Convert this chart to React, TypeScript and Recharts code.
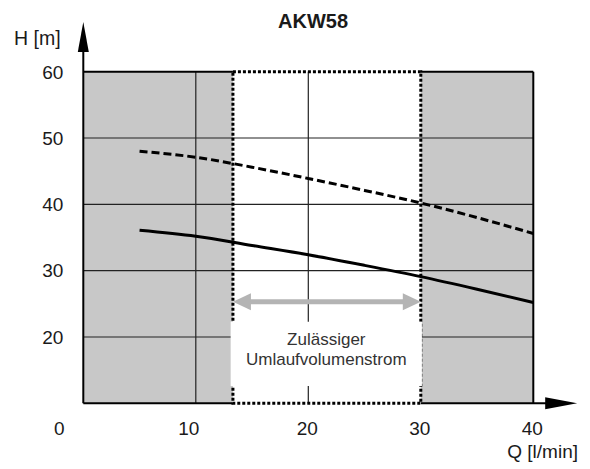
import { ComposedChart, Line, XAxis, YAxis, ReferenceArea, ReferenceLine } from 'recharts'

// pump curve AKW58, Q in l/min, H in m
const flowQ = [5, 10, 15, 20, 25, 30, 35, 40]
const headUpper = [48, 47.1, 45.6, 43.9, 42.1, 40.2, 38, 35.6]
const headLower = [36.1, 35.2, 33.8, 32.4, 30.8, 29.1, 27.2, 25.2]

const qTicks = [0, 10, 20, 30, 40]
const hTicks = [20, 30, 40, 50, 60]
const qGrid = [10, 20]
const hGrid = [20, 30, 40, 50]
const qDomain = [0, 40]
const hDomain = [10, 60]

// permitted circulation flow band
const permitted = [13.3, 30]
const arrowH = 25.3
const boxQ = [13.1, 30.1]
const boxH = [12.6, 22.3]
const boxLines = ['Zulässiger', 'Umlaufvolumenstrom']

// axis arrow tips (beyond the plot)
const tipQ = 43.9
const tipH = 67.5

const data = flowQ.map((q, i) => ({ q, upper: headUpper[i], lower: headLower[i] }))

const FONT = '"Liberation Sans", Arial, sans-serif'
const TEXT = '#1a1a1a'
const GRAY = '#c8c8c8'

function arrowShape(color: string, width: number, headLen: number, headHalf: number, both: boolean) {
  return (props: any) => {
    const { x1, y1, x2, y2 } = props
    const dx = x2 - x1
    const dy = y2 - y1
    const len = Math.hypot(dx, dy) || 1
    const ux = dx / len
    const uy = dy / len
    const px = -uy
    const py = ux
    const head = (tx: number, ty: number, dir: number) => {
      const bx = tx - dir * ux * headLen
      const by = ty - dir * uy * headLen
      return `${tx},${ty} ${bx + px * headHalf},${by + py * headHalf} ${bx - px * headHalf},${by - py * headHalf}`
    }
    const sx = both ? x1 + ux * headLen * 0.8 : x1
    const sy = both ? y1 + uy * headLen * 0.8 : y1
    const ex = x2 - ux * headLen * 0.8
    const ey = y2 - uy * headLen * 0.8
    return (
      <g>
        <line x1={sx} y1={sy} x2={ex} y2={ey} stroke={color} strokeWidth={width} />
        <polygon points={head(x2, y2, 1)} fill={color} />
        {both && <polygon points={head(x1, y1, -1)} fill={color} />}
      </g>
    )
  }
}

const XTick = (props: any) => {
  const { x, y, payload } = props
  const shift = payload.value === 0 ? -24 : payload.value === 10 ? -7 : -1
  return (
    <text x={x + shift} y={y + 31.5} textAnchor="middle" fontSize={19} fontFamily={FONT} fill={TEXT}>
      {payload.value}
    </text>
  )
}

const YTick = (props: any) => {
  const { x, y, payload } = props
  return (
    <text x={x - 20} y={y + 6.8} textAnchor="end" fontSize={19} fontFamily={FONT} fill={TEXT}>
      {payload.value}
    </text>
  )
}

const BoxLabel = (props: any) => {
  const { x, y, width } = props.viewBox
  const cx = x + width / 2
  return (
    <g>
      {boxLines.map((t, i) => (
        <text key={t} x={cx} y={y + 23.5 + i * 19.5} textAnchor="middle" fontSize={17} fontFamily={FONT} fill="#333">
          {t}
        </text>
      ))}
    </g>
  )
}

const solid = { stroke: '#000', strokeWidth: 2 }

export default function App() {
  return (
    <div style={{ position: 'absolute', left: 0, top: 0, width: 590, height: 469, background: '#fff', fontFamily: FONT }}>
      <div style={{ position: 'absolute', left: 313, top: 11, transform: 'translateX(-50%)', fontSize: 20, lineHeight: 1, fontWeight: 'bold', color: TEXT }}>
        AKW58
      </div>
      <div style={{ position: 'absolute', left: 14, top: 29, fontSize: 19.5, lineHeight: 1, color: TEXT }}>H [m]</div>
      <div style={{ position: 'absolute', right: 12, top: 442, fontSize: 19, lineHeight: 1, color: TEXT }}>Q [l/min]</div>

      <ComposedChart width={590} height={469} data={data} margin={{ top: 71.7, right: 56.7, bottom: 35.7, left: 23.3 }}>
        <XAxis dataKey="q" type="number" domain={qDomain} ticks={qTicks} interval={0} height={30} axisLine={false} tickLine={false} tickSize={0} tickMargin={0} tick={<XTick />} />
        <YAxis type="number" domain={hDomain} ticks={hTicks} interval={0} width={60} axisLine={false} tickLine={false} tickSize={0} tickMargin={0} tick={<YTick />} />

        <ReferenceArea x1={qDomain[0]} x2={permitted[0]} y1={hDomain[0]} y2={hDomain[1]} fill={GRAY} fillOpacity={1} stroke="none" zIndex={-80} />
        <ReferenceArea x1={permitted[1]} x2={qDomain[1]} y1={hDomain[0]} y2={hDomain[1]} fill={GRAY} fillOpacity={1} stroke="none" zIndex={-80} />

        {qGrid.map((q) => (
          <ReferenceLine key={'gq' + q} x={q} stroke="#222" strokeWidth={1.2} zIndex={-60} />
        ))}
        {hGrid.map((h) => (
          <ReferenceLine key={'gh' + h} y={h} stroke="#222" strokeWidth={1.2} zIndex={-60} />
        ))}

        <ReferenceLine segment={[{ x: qDomain[0], y: hDomain[1] }, { x: permitted[0], y: hDomain[1] }]} {...solid} zIndex={-50} />
        <ReferenceLine segment={[{ x: permitted[1], y: hDomain[1] }, { x: qDomain[1], y: hDomain[1] }]} {...solid} zIndex={-50} />
        <ReferenceLine segment={[{ x: qDomain[0], y: hDomain[0] }, { x: permitted[0], y: hDomain[0] }]} {...solid} zIndex={-50} />
        <ReferenceLine segment={[{ x: qDomain[1], y: hDomain[0] }, { x: qDomain[1], y: hDomain[1] }]} {...solid} zIndex={-50} />
        <ReferenceLine
          segment={[{ x: permitted[1], y: hDomain[0] }, { x: tipQ, y: hDomain[0] }]}
          ifOverflow="visible"
          zIndex={-50}
          shape={arrowShape('#000', 2, 32, 6, false)}
        />
        <ReferenceLine
          segment={[{ x: qDomain[0], y: hDomain[0] }, { x: qDomain[0], y: tipH }]}
          ifOverflow="visible"
          zIndex={-50}
          shape={arrowShape('#000', 2, 30, 5.5, false)}
        />

        <ReferenceArea
          x1={permitted[0]}
          x2={permitted[1]}
          y1={hDomain[0]}
          y2={hDomain[1]}
          fill="none"
          stroke="#000"
          strokeWidth={3}
          strokeDasharray="3 2"
          zIndex={-40}
        />

        <ReferenceArea
          x1={boxQ[0]}
          x2={boxQ[1]}
          y1={boxH[0]}
          y2={boxH[1]}
          fill="#fff"
          fillOpacity={1}
          stroke="none"
          zIndex={-30}
          label={<BoxLabel />}
        />

        <ReferenceLine
          segment={[{ x: permitted[0], y: arrowH }, { x: permitted[1], y: arrowH }]}
          zIndex={-20}
          shape={arrowShape('#b4b4b4', 5, 18, 8.5, true)}
        />

        <Line dataKey="upper" type="monotone" stroke="#000" strokeWidth={3} strokeDasharray="8 4" dot={false} activeDot={false} isAnimationActive={false} />
        <Line dataKey="lower" type="monotone" stroke="#000" strokeWidth={3} dot={false} activeDot={false} isAnimationActive={false} />
      </ComposedChart>
    </div>
  )
}
